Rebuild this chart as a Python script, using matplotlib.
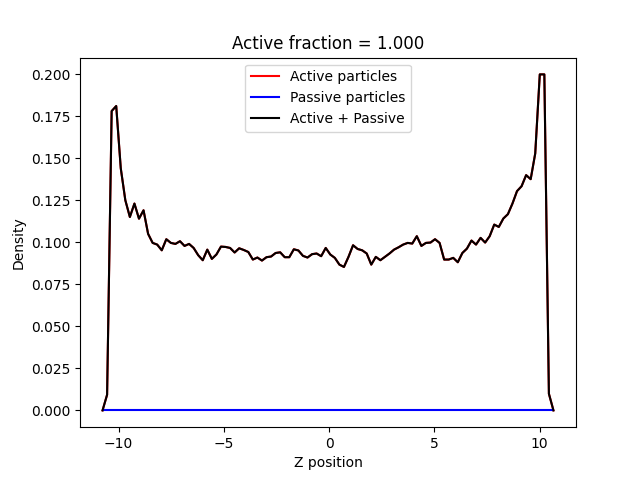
import numpy as np
import matplotlib
matplotlib.use("Agg")
import matplotlib.pyplot as plt

# bin centres along z
z = np.linspace(-10.76, 10.66, 100)

active = [
    0.0, 0.0093, 0.178, 0.181, 0.144, 0.125, 0.115, 0.123, 0.114, 0.119,
    0.105, 0.0996, 0.0986, 0.0952, 0.1018, 0.0996, 0.099, 0.1006, 0.0978, 0.099,
    0.0966, 0.0923, 0.0893, 0.0956, 0.0901, 0.0927, 0.0974, 0.0972, 0.0966, 0.0939,
    0.0964, 0.0954, 0.0942, 0.0897, 0.0909, 0.0891, 0.0911, 0.0915, 0.0936, 0.094,
    0.0911, 0.0911, 0.0958, 0.0951, 0.0919, 0.0909, 0.0929, 0.0933, 0.0917, 0.0966,
    0.0927, 0.0907, 0.0867, 0.0853, 0.0913, 0.0982, 0.096, 0.0952, 0.0933, 0.0867,
    0.0913, 0.0893, 0.0913, 0.0933, 0.0956, 0.097, 0.0986, 0.0996, 0.0992, 0.1036,
    0.0978, 0.0996, 0.0998, 0.1018, 0.0996, 0.0897, 0.0897, 0.0907, 0.0881, 0.0936,
    0.0962, 0.101, 0.0986, 0.1026, 0.0998, 0.1036, 0.1105, 0.1091, 0.1141, 0.1167,
    0.123, 0.1304, 0.1333, 0.1399, 0.1375, 0.1528, 0.1998, 0.1998, 0.0099, 0.0,
]
passive = [0.0] * len(active)

active = np.array(active)
passive = np.array(passive)
total = active + passive
frac = 1.0

fig, ax = plt.subplots(figsize=(6.4, 4.8), dpi=100)
ax.plot(z, active, color='red', label='Active particles')
ax.plot(z, passive, color='blue', label='Passive particles')
ax.plot(z, total, color='black', label='Active + Passive')
ax.set_xlabel('Z position')
ax.set_ylabel('Density')
ax.set_title(f'Active fraction = {frac:.3f}')
ax.legend(loc='upper center')
fig.savefig('out.png')
